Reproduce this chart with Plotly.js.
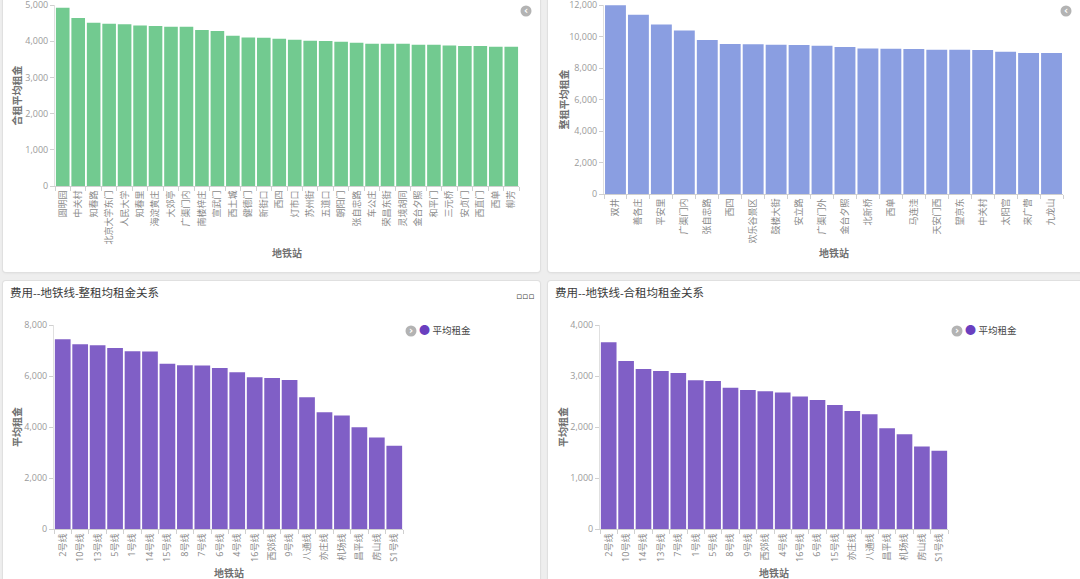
<!DOCTYPE html>
<html><head><meta charset="utf-8">
<script src="https://cdn.plot.ly/plotly-3.0.1.min.js"></script>
<style>
html,body{margin:0;padding:0;width:1080px;height:579px;overflow:hidden;background:#eeeeee;}
.card{position:absolute;background:#fff;border-radius:3px;box-shadow:0 0 0 1px #e0e0e0,0 1px 3px rgba(0,0,0,0.08);overflow:hidden;}
.card>div{position:absolute;left:0;top:0;}
</style></head><body>
<div class="card" style="left:3px;top:-10px;width:537px;height:282px"><div id="c1"></div></div>
<div class="card" style="left:548px;top:-10px;width:540px;height:282px"><div id="c2"></div></div>
<div class="card" style="left:3px;top:281px;width:537px;height:310px"><div id="c3"></div></div>
<div class="card" style="left:548px;top:281px;width:540px;height:310px"><div id="c4"></div></div>
<script>
// 合租 by station
const roomStations = ["圆明园","中关村","知春路","北京大学东门","人民大学","知春里","海淀黄庄","大郊亭","广渠门内","南楼梓庄","宣武门","西土城","健德门","新街口","西四","灯市口","苏州街","五道口","朝阳门","张自忠路","车公庄","荣昌东街","灵境胡同","金台夕照","和平门","三元桥","安贞门","西直门","西单","柳芳"];
const roomRent = [4925,4640,4510,4483,4465,4437,4418,4400,4400,4307,4280,4150,4104,4095,4067,4040,4012,4003,3985,3957,3930,3930,3930,3900,3900,3883,3865,3865,3846,3846];
// 整租 by station
const wholeStations = ["双井","善各庄","平安里","广渠门内","张自忠路","西四","欢乐谷景区","鼓楼大街","安立路","广渠门外","金台夕照","北新桥","西单","马连洼","天安门西","望京东","中关村","太阳宫","来广营","九龙山"];
const wholeRent = [11990,11384,10768,10387,9778,9524,9510,9480,9460,9416,9333,9245,9225,9206,9162,9162,9143,9035,8952,8952];
// 整租 by line
const wholeLines = ["2号线","10号线","13号线","5号线","1号线","14号线","15号线","8号线","7号线","6号线","4号线","16号线","西郊线","9号线","八通线","亦庄线","机场线","昌平线","房山线","S1号线"];
const wholeLineRent = [7439,7243,7204,7099,6969,6956,6484,6421,6408,6316,6147,5951,5924,5846,5168,4581,4448,3994,3587,3262];
// 合租 by line
const roomLines = ["2号线","10号线","14号线","13号线","7号线","1号线","5号线","8号线","9号线","西郊线","4号线","16号线","6号线","15号线","亦庄线","八通线","昌平线","机场线","房山线","S1号线"];
const roomLineRent = [3661,3295,3138,3099,3060,2917,2903,2772,2727,2701,2675,2596,2531,2433,2316,2251,1977,1860,1617,1533];

const FONT = '"Open Sans","Noto Sans CJK SC",sans-serif';

function makeChart(id, o){
  const pw = o.w - o.m.l - o.m.r, ph = o.h - o.m.t - o.m.b;
  const PX = px => (px - o.m.l)/pw;
  const PY = py => 1 - (py - o.m.t)/ph;
  const ann = [
    {xref:'paper',yref:'paper',x:0,y:0.5,xshift:-o.ytx,textangle:-90,showarrow:false,
     text:'<b>'+o.ytitle+'</b>',font:{size:10,color:'#707070',family:FONT},xanchor:'center',yanchor:'middle'},
    {xref:'paper',yref:'paper',x:0.5,y:0,yshift:-o.xty,showarrow:false,
     text:'<b>地铁站</b>',font:{size:10,color:'#707070',family:FONT},xanchor:'center',yanchor:'middle'}
  ];
  const shapes = [];
  (o.icons||[]).forEach(ic=>{
    shapes.push({type:'circle',xref:'paper',yref:'paper',xsizemode:'pixel',ysizemode:'pixel',
      xanchor:PX(ic.x),yanchor:PY(ic.y),x0:-5.5,x1:5.5,y0:-5.5,y1:5.5,fillcolor:'#b3b3b3',line:{width:0}});
    ann.push({xref:'paper',yref:'paper',x:PX(ic.x),y:PY(ic.y),yshift:1,showarrow:false,text:'<b>'+ic.c+'</b>',
      font:{size:10,color:'#ffffff',family:'DejaVu Sans'},xanchor:'center',yanchor:'middle'});
  });
  if(o.legend){
    ann.push({xref:'paper',yref:'paper',x:PX(o.legend.x),y:PY(o.legend.y),showarrow:false,xanchor:'left',yanchor:'middle',
      text:'<span style="color:#6a3fbf;font-size:11px">●</span> 平均租金',font:{size:9.5,color:'#444',family:FONT}});
  }
  if(o.menu){
    ann.push({xref:'paper',yref:'paper',x:PX(o.menu.x),y:PY(o.menu.y),showarrow:false,xanchor:'center',yanchor:'middle',
      text:'▫▫▫',font:{size:9,color:'#444',family:'DejaVu Sans'}});
  }
  const layout = {
    width:o.w,height:o.h,margin:o.m,paper_bgcolor:'rgba(0,0,0,0)',plot_bgcolor:'rgba(0,0,0,0)',
    font:{family:FONT},showlegend:false,bargap:o.gap,
    xaxis:{type:'category',tickangle:-90,tickfont:{size:9,color:'#8a8a8a'},showgrid:false,zeroline:false,
      showline:true,linecolor:'#d0d0d0',linewidth:1,ticks:'outside',tickson:'boundaries',ticklen:4,tickcolor:'#d0d0d0',fixedrange:true},
    yaxis:{range:o.yr,dtick:o.dt,tickformat:',d',tickfont:{size:9,color:'#9a9a9a'},showgrid:false,zeroline:false,
      showline:true,linecolor:'#e0e0e0',ticks:'outside',ticklen:4,tickcolor:'#d0d0d0',fixedrange:true},
    annotations:ann,shapes:shapes
  };
  if(o.title){
    layout.title = {text:o.title,xref:'container',yref:'container',x:7/o.w,xanchor:'left',y:1-12/o.h,yanchor:'middle',
      font:{size:11.5,color:'#3a3a3a',family:FONT}};
  }
  Plotly.newPlot(id,[{type:'bar',x:o.x,y:o.y,marker:{color:o.color},hoverinfo:'x+y'}],layout,{displayModeBar:false,staticPlot:true});
}

makeChart('c1',{w:537,h:282,m:{l:52,r:21,t:15,b:86,pad:0},x:roomStations,y:roomRent,color:'#72ca90',gap:0.12,
  yr:[0,5000],dt:1000,ytitle:'合租平均租金',ytx:39,xty:67,icons:[{x:523,y:21,c:'‹'}]});
makeChart('c2',{w:540,h:282,m:{l:56,r:25,t:15,b:78,pad:0},x:wholeStations,y:wholeRent,color:'#8a9ee1',gap:0.09,
  yr:[0,12000],dt:2000,ytitle:'整租平均租金',ytx:41,xty:59,icons:[{x:518,y:21,c:'‹'}]});
makeChart('c3',{w:537,h:310,m:{l:51,r:137,t:44,b:62,pad:0},x:wholeLines,y:wholeLineRent,color:'#805fc6',gap:0.1,
  yr:[0,8000],dt:2000,ytitle:'平均租金',ytx:37,xty:44,title:'费用--地铁线-整租均租金关系',
  icons:[{x:408,y:50,c:'›'}],legend:{x:414,y:48},menu:{x:522,y:15}});
makeChart('c4',{w:540,h:310,m:{l:52,r:140,t:44,b:62,pad:0},x:roomLines,y:roomLineRent,color:'#805fc6',gap:0.1,
  yr:[0,4000],dt:1000,ytitle:'平均租金',ytx:37,xty:44,title:'费用--地铁线-合租均租金关系',
  icons:[{x:409,y:50,c:'›'}],legend:{x:415,y:48}});
</script>
</body></html>
